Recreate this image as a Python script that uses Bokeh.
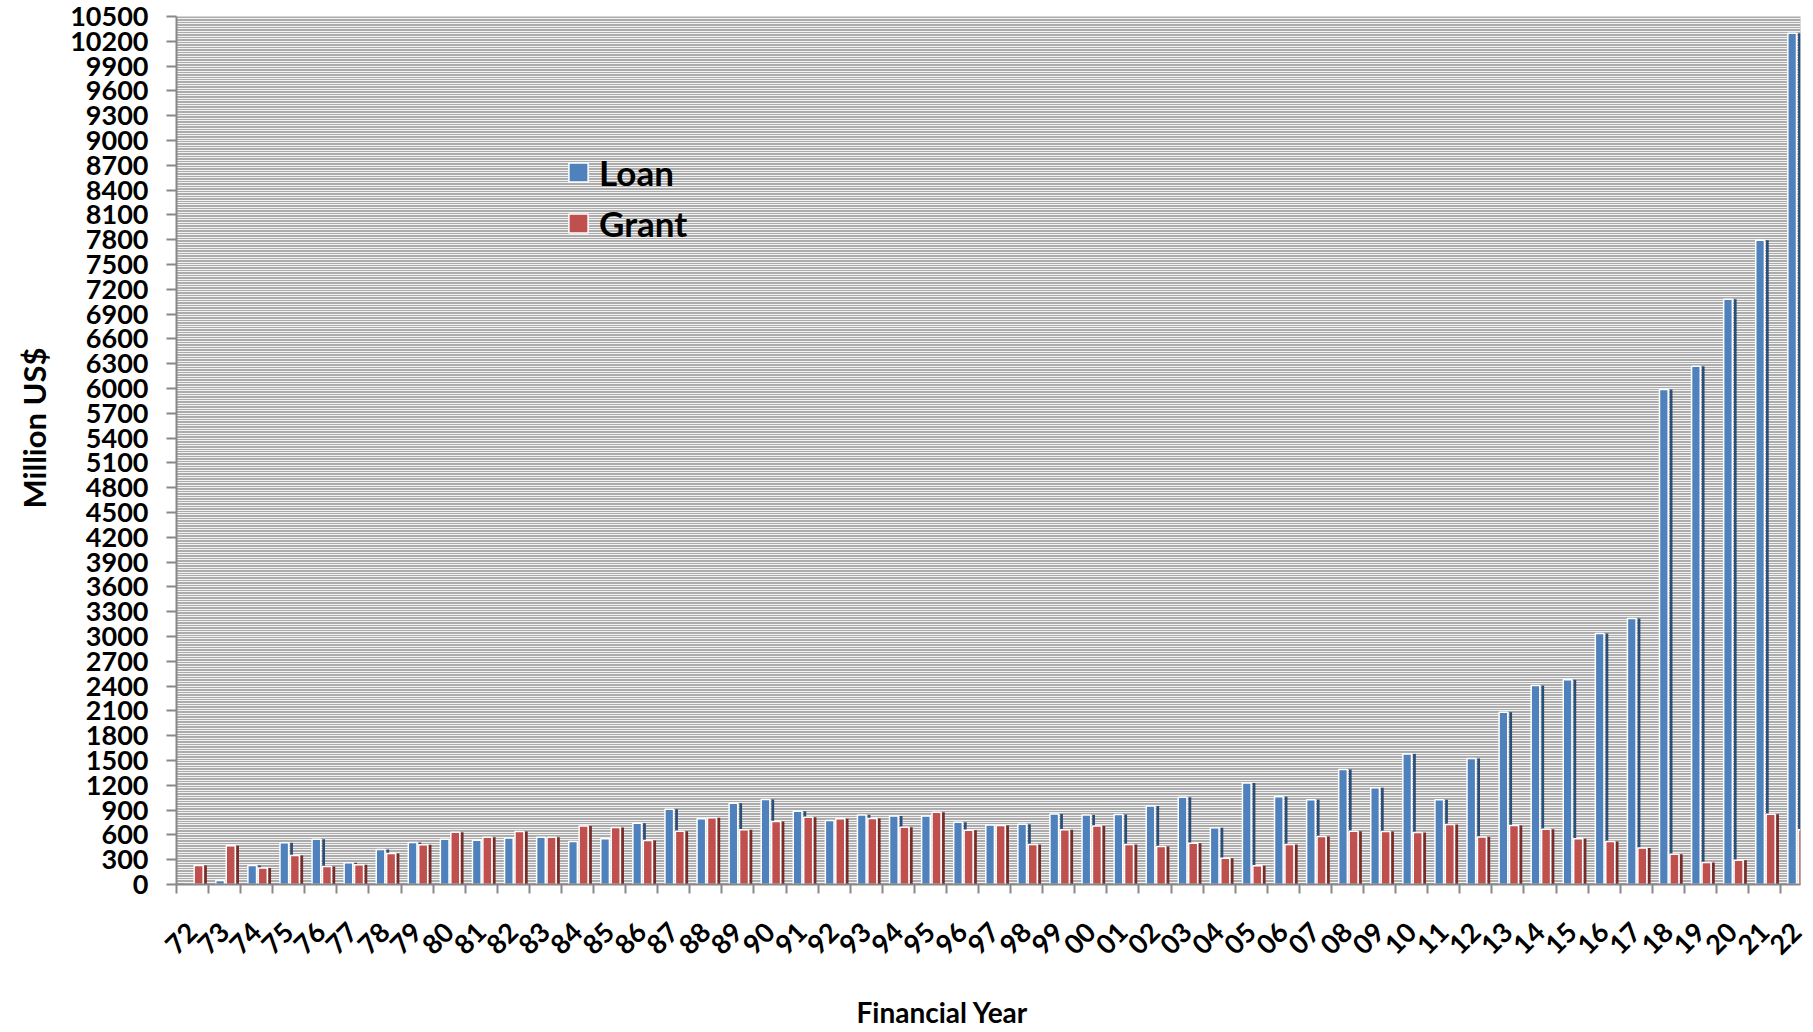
import math
from bokeh.plotting import figure
from bokeh.models import ColumnDataSource, FixedTicker, Legend, LegendItem, Range1d, Title
from bokeh.transform import dodge
from bokeh.embed import file_html
from bokeh.resources import INLINE

years = ["72", "73", "74", "75", "76", "77", "78", "79", "80", "81", "82", "83", "84",
         "85", "86", "87", "88", "89", "90", "91", "92", "93", "94", "95", "96", "97",
         "98", "99", "00", "01", "02", "03", "04", "05", "06", "07", "08", "09", "10",
         "11", "12", "13", "14", "15", "16", "17", "18", "19", "20", "21", "22"]

loan = [0, 48, 230, 505, 548, 262, 423, 508, 548, 536, 564, 572, 520,
        552, 742, 911, 794, 983, 1028, 887, 774, 842, 830, 830, 754, 721,
        729, 854, 842, 846, 951, 1056, 685, 1229, 1060, 1024, 1390, 1169, 1580,
        1024, 1525, 2085, 2406, 2476, 3036, 3218, 5988, 6268, 7079, 7792, 10297]

grant = [230, 470, 200, 350, 218, 238, 375, 480, 633, 572, 641, 572, 709,
         689, 532, 645, 806, 661, 762, 814, 794, 798, 693, 874, 657, 713,
         484, 661, 709, 484, 459, 500, 318, 226, 484, 580, 645, 641, 629,
         725, 576, 713, 669, 552, 520, 443, 367, 266, 294, 850, 661]

y_ticks = list(range(0, 10501, 300))
y_minor = list(range(0, 10501, 30))

idx = list(range(len(years)))
src = ColumnDataSource(dict(x=idx, loan=loan, grant=grant))

FONT = "Lato"

p = figure(frame_width=1624, frame_height=868,
           x_range=Range1d(-0.5, 50.12), y_range=Range1d(0, 10500),
           output_backend="svg", toolbar_location=None,
           min_border_left=176, min_border_right=10, min_border_top=16,
           min_border_bottom=144)

p.background_fill_color = "#ACACAC"
p.border_fill_color = "white"
p.outline_line_color = None

# bars (front faces + darker side strips)
bf = p.vbar(x=dodge("x", -0.14, range=p.x_range), top="loan", width=0.27, source=src,
            fill_color="#4F81BD", line_color="white", line_width=1.5)
p.vbar(x=dodge("x", 0.087, range=p.x_range), top="loan", width=0.085, source=src,
       fill_color="#2C4D75", line_color=None)
rf = p.vbar(x=dodge("x", 0.19, range=p.x_range), top="grant", width=0.28, source=src,
            fill_color="#C0504D", line_color="white", line_width=1.5)
p.vbar(x=dodge("x", 0.405, range=p.x_range), top="grant", width=0.085, source=src,
       fill_color="#772C2A", line_color=None)

# grid
p.xgrid.visible = False
p.ygrid.grid_line_color = "#F2F2F2"
p.ygrid.grid_line_width = 1
p.ygrid.minor_grid_line_color = "#F2F2F2"
p.ygrid.minor_grid_line_width = 1

# y axis
p.yaxis.ticker = FixedTicker(ticks=y_ticks, minor_ticks=y_minor)
p.yaxis.major_label_text_font = FONT
p.yaxis.major_label_text_font_style = "bold"
p.yaxis.major_label_text_font_size = "27px"
p.yaxis.major_label_text_color = "black"
p.yaxis.axis_line_color = "#888888"
p.yaxis.axis_line_width = 2
p.yaxis.major_tick_line_color = "#888888"
p.yaxis.major_tick_line_width = 2
p.yaxis.major_tick_out = 10
p.yaxis.major_tick_in = 0
p.yaxis.minor_tick_line_color = None
p.yaxis.major_label_standoff = 18

# x axis
p.xaxis.ticker = FixedTicker(ticks=idx, minor_ticks=[i - 0.5 for i in idx])
p.xaxis.major_label_overrides = {i: y for i, y in zip(idx, years)}
p.xaxis.major_label_orientation = math.pi / 4
p.xaxis.major_label_text_font = FONT
p.xaxis.major_label_text_font_style = "bold"
p.xaxis.major_label_text_font_size = "27px"
p.xaxis.major_label_text_color = "black"
p.xaxis.major_tick_out = 0
p.xaxis.major_tick_in = 0
p.xaxis.minor_tick_out = 9
p.xaxis.minor_tick_in = 0
p.xaxis.minor_tick_line_color = "#888888"
p.xaxis.minor_tick_line_width = 2
p.xaxis.axis_line_color = "#888888"
p.xaxis.axis_line_width = 2
p.xaxis.major_label_standoff = 34

# axis titles
xt = Title(text="Financial Year", align="left", offset=680, standoff=52,
           text_font=FONT, text_font_style="bold", text_font_size="28px",
           text_color="black")
p.add_layout(xt, "below")
yt = Title(text="Million US$", align="left", offset=376, standoff=26,
           vertical_align="top",
           text_font=FONT, text_font_style="bold", text_font_size="31px",
           text_color="black")
p.add_layout(yt, "left")

legend = Legend(items=[LegendItem(label="Loan", renderers=[bf]),
                       LegendItem(label="Grant", renderers=[rf])],
                location=(390, 640), background_fill_alpha=0, border_line_alpha=0,
                padding=0, margin=0, spacing=9, label_height=40,
                glyph_height=24, glyph_width=24, label_standoff=9,
                label_text_font=FONT, label_text_font_style="bold",
                label_text_font_size="35px", label_text_color="black")
p.add_layout(legend)

open("out.html", "w").write(file_html(p, INLINE))
